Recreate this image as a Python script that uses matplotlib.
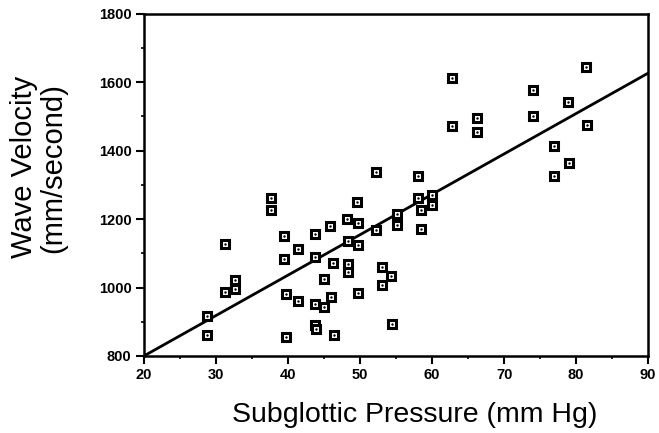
import numpy as np
import matplotlib
matplotlib.use('Agg')
import matplotlib.pyplot as plt
from matplotlib.ticker import MultipleLocator

plt.rcParams['font.family'] = ['Liberation Sans', 'DejaVu Sans']

# Subglottic pressure (mm Hg) vs wave velocity (mm/second)
pressure = [28.8, 28.8, 31.3, 31.3, 32.7, 32.7, 37.6, 37.6, 39.5, 39.5,
            39.7, 39.7, 41.4, 41.4, 43.7, 43.7, 43.8, 43.7, 43.9, 45.0,
            45.0, 45.8, 45.9, 46.4, 46.2, 48.2, 48.3, 48.3, 48.3, 49.6,
            49.7, 49.7, 49.7, 52.2, 52.2, 53.1, 53.1, 54.3, 54.4, 55.1,
            55.1, 58.0, 58.0, 58.5, 58.5, 60.0, 60.0, 62.8, 62.8, 66.3,
            66.3, 74.0, 74.0, 76.9, 76.9, 78.9, 79.0, 81.4, 81.5]
velocity = [917, 862, 1128, 988, 1023, 996, 1263, 1228, 1152, 1084,
            982, 856, 1114, 962, 1157, 1089, 952, 890, 878, 1026,
            942, 1181, 973, 862, 1073, 1199, 1137, 1070, 1046, 1249,
            1190, 1125, 985, 1337, 1167, 1061, 1008, 1035, 894, 1216,
            1184, 1325, 1263, 1228, 1170, 1269, 1240, 1612, 1471, 1495,
            1454, 1577, 1501, 1413, 1325, 1542, 1363, 1645, 1474]

# regression line as drawn in the figure
slope = 11.81
intercept = 563.8
line_x = [20, 90]

fig = plt.figure(figsize=(6.59, 4.33), dpi=100)
ax = fig.add_axes([0.2185, 0.178, 0.765, 0.79])

ax.plot(pressure, velocity, 's', ms=6, mfc='white', mec='black', mew=2.2,
        zorder=3)
ax.plot(pressure, velocity, '.', ms=1.5, color='black', zorder=4)

lx = np.array(line_x)
ax.plot(lx, slope * lx + intercept, color='black', lw=2, zorder=2)

ax.set_xlim(20, 90)
ax.set_ylim(800, 1800)
ax.xaxis.set_major_locator(MultipleLocator(10))
ax.xaxis.set_minor_locator(MultipleLocator(5))
ax.yaxis.set_major_locator(MultipleLocator(200))
ax.yaxis.set_minor_locator(MultipleLocator(100))
ax.tick_params(which='major', direction='out', length=6, width=1.5,
               labelsize=10.5, pad=3)
ax.tick_params(which='minor', direction='out', length=2.5, width=1.2)
for lab in ax.get_xticklabels() + ax.get_yticklabels():
    lab.set_fontweight('bold')
for sp in ax.spines.values():
    sp.set_linewidth(1.8)

fig.text(415 / 659, 1 - 415 / 433, 'Subglottic Pressure (mm Hg)',
         fontsize=20.5, ha='center', va='center')
fig.text(24 / 659, 1 - 167 / 433, 'Wave Velocity', fontsize=21,
         rotation=90, ha='center', va='center')
fig.text(53 / 659, 1 - 168 / 433, '(mm/second)', fontsize=21,
         rotation=90, ha='center', va='center')

fig.savefig('out.png', dpi=100)
